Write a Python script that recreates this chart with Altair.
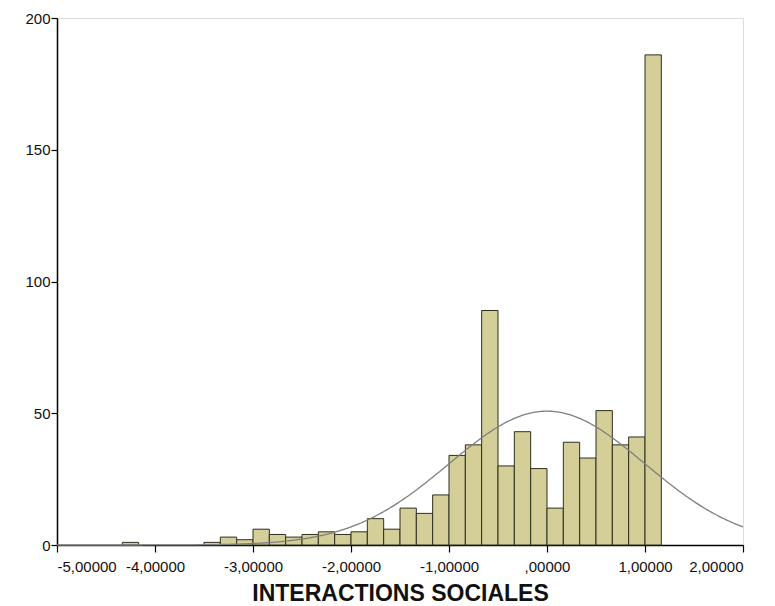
import altair as alt
import pandas as pd

# Histogram bins (left edges, width 1/6) and counts
BIN_WIDTH = 1 / 6
bin_index = [-26, -21, -20, -19, -18, -17, -16, -15, -14, -13, -12, -11, -10,
             -9, -8, -7, -6, -5, -4, -3, -2, -1, 0, 1, 2, 3, 4, 5, 6]
counts = [1, 1, 3, 2, 6, 4, 3, 4, 5, 4, 5, 10, 6,
          14, 12, 19, 34, 38, 89, 30, 43, 29, 14, 39, 33, 51, 38, 41, 186]

# Normal curve parameters (standardised variable)
MEAN = 0.0
SD = 1.0
N = sum(counts)

x_ticks = [-5, -4, -3, -2, -1, 0, 1, 2]
y_ticks = [0, 50, 100, 150, 200]

bars_df = pd.DataFrame({"i": bin_index, "count": counts})

font = "Liberation Sans"

x_scale = alt.Scale(domain=[-5, 2], nice=False, zero=False)
y_scale = alt.Scale(domain=[0, 200], nice=False)

label_expr = (
    "datum.value == 0 ? ',00000' : "
    "replace(replace(format(datum.value, '.5f'), '.', ','), '\u2212', '-')"
)

bars = alt.Chart(bars_df).transform_calculate(
    x0=f"datum.i * {BIN_WIDTH}",
    x1=f"(datum.i + 1) * {BIN_WIDTH}",
).mark_rect(fill="#D4CF98", stroke="#2E2E1E", strokeWidth=1).encode(
    x=alt.X("x0:Q", scale=x_scale,
            axis=alt.Axis(values=x_ticks, title="INTERACTIONS SOCIALES",
                          labelExpr=label_expr,
                          grid=False, domainColor="#000000", domainWidth=1.5,
                          tickColor="#000000", tickSize=7, tickWidth=1.2,
                          labelFont=font, labelFontSize=15, labelColor="#111111",
                          labelPadding=7, titleFont=font, titleFontSize=23,
                          titleFontWeight="bold", titleColor="#111111",
                          titlePadding=8)),
    x2="x1:Q",
    y=alt.Y("count:Q", scale=y_scale,
            axis=alt.Axis(values=y_ticks, title=None, grid=False,
                          domainColor="#000000", domainWidth=1.5,
                          tickColor="#000000", tickSize=6, tickWidth=1.2,
                          labelFont=font, labelFontSize=15, labelColor="#111111",
                          labelPadding=1)),
    y2=alt.datum(0),
)

curve = alt.Chart(alt.sequence(-5, 2.0001, 0.02, as_="x")).transform_calculate(
    y=f"{N} * {BIN_WIDTH} / ({SD} * sqrt(2 * PI)) * exp(-0.5 * pow((datum.x - {MEAN}) / {SD}, 2))"
).mark_line(color="#7F7F7F", strokeWidth=1.3).encode(
    x=alt.X("x:Q", scale=x_scale),
    y=alt.Y("y:Q", scale=y_scale),
)

chart = alt.layer(bars, curve).properties(
    width=686,
    height=527,
    autosize=alt.AutoSizeParams(type="none"),
    padding={"left": 49, "top": 10, "right": 20, "bottom": 60},
).configure_view(
    fill="#F0F0F0", stroke="#8A8A8A", strokeWidth=1.5
).configure(background="#FFFFFF")

chart.save("out.html", embed_options={"renderer": "svg", "actions": False})
